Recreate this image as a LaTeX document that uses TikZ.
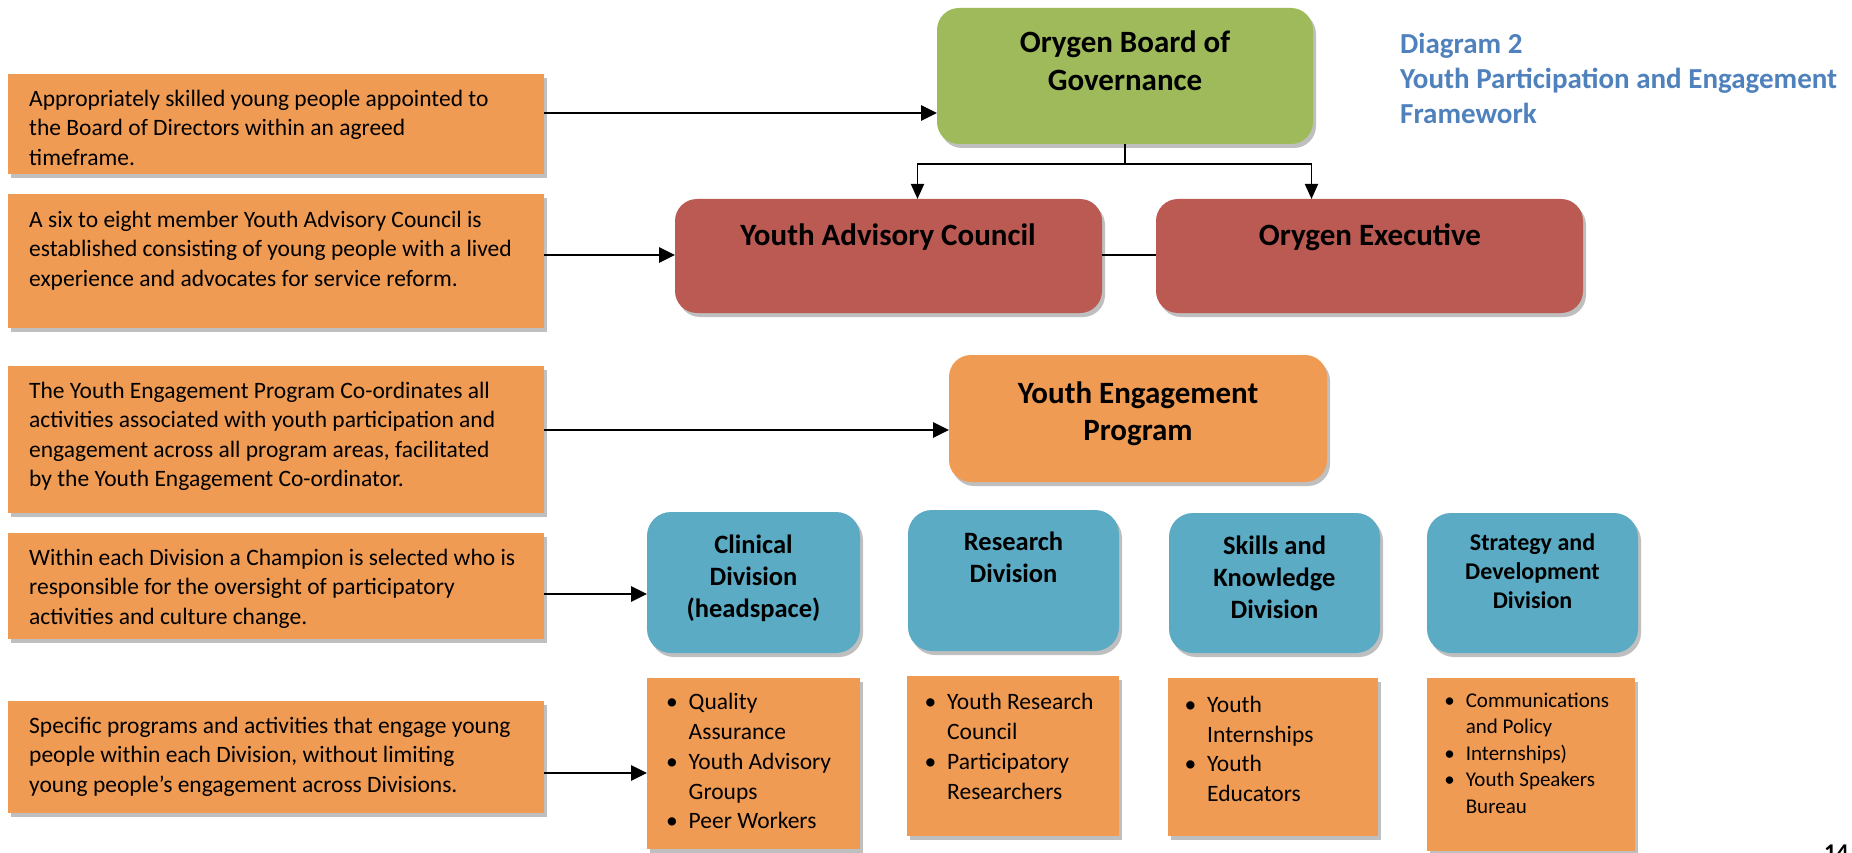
\documentclass[tikz,border=0pt]{standalone}
\usepackage{fontspec}
\setmainfont{Carlito}
\usetikzlibrary{arrows.meta,shadows,calc}
\definecolor{orangeC}{RGB}{240,155,84}
\definecolor{greenC}{RGB}{158,186,90}
\definecolor{redC}{RGB}{187,89,83}
\definecolor{blueC}{RGB}{91,171,197}
\definecolor{titleC}{RGB}{79,129,189}
\newcommand\mybul{\llap{\textbullet\hspace{11pt}}}
\begin{document}
\begin{tikzpicture}[x=1pt,y=-1pt,
  shad/.style={drop shadow={shadow xshift=3pt,shadow yshift=-4pt,fill=black,opacity=0.25}},
  sqbox/.style={fill=orangeC, shad, anchor=north west, inner sep=0pt, outer sep=0pt},
  rbox/.style={shad, anchor=north west, inner sep=0pt, outer sep=0pt, rounded corners=22pt},
  dbox/.style={rbox, fill=blueC, rounded corners=24pt},
  ltxt/.style={anchor=north west, inner sep=0pt, align=left, font=\fontsize{23.5}{29.5}\selectfont},
  btxt/.style={anchor=north west, inner sep=0pt, align=left, font=\fontsize{23.5}{29.7}\selectfont},
  head/.style={anchor=north, inner sep=0pt, align=center, font=\bfseries\fontsize{31}{37.5}\selectfont},
  dhead/.style={anchor=north, inner sep=0pt, align=center, font=\bfseries\fontsize{26.5}{32}\selectfont},
  arr/.style={line width=2.7pt, -{Triangle[length=16pt,width=15pt]}},
  tarr/.style={line width=1.8pt, -{Triangle[length=15pt,width=13pt]}},
  link/.style={line width=1.8pt}
]
\fill[white] (0,0) rectangle (1852,853);
\useasboundingbox (0,0) rectangle (1852,853);

% left description boxes
\node[sqbox, minimum width=536pt, minimum height=100pt] (L1) at (8,74) {};
\node[sqbox, minimum width=536pt, minimum height=134pt] (L2) at (8,194) {};
\node[sqbox, minimum width=536pt, minimum height=147pt] (L3) at (8,366) {};
\node[sqbox, minimum width=536pt, minimum height=106pt] (L4) at (8,533) {};
\node[sqbox, minimum width=536pt, minimum height=112pt] (L5) at (8,701) {};

\node[ltxt] (t1) at (29,85.35) {\strut Appropriately skilled young people appointed to\\the Board of Directors within an agreed\\timeframe.};
\node[ltxt] (t2) at (29,206.35) {\strut A six to eight member Youth Advisory Council is\\established consisting of young people with a lived\\experience and advocates for service reform.};
\node[ltxt] (t3) at (29,377.35) {\strut The Youth Engagement Program Co-ordinates all\\activities associated with youth participation and\\engagement across all program areas, facilitated\\by the Youth Engagement Co-ordinator.};
\node[ltxt] (t4) at (29,544.35) {\strut Within each Division a Champion is selected who is\\responsible for the oversight of participatory\\activities and culture change.};
\node[ltxt] (t5) at (29,712.35) {\strut Specific programs and activities that engage young\\people within each Division, without limiting\\young people’s engagement across Divisions.};

% governance
\node[rbox, fill=greenC, minimum width=376pt, minimum height=136pt] (board) at (937,8) {};
\node[head] (boardt) at (1125,26.5) {\strut Orygen Board of\\Governance};

\node[anchor=north west, inner sep=0pt, align=left, text=titleC, font=\bfseries\fontsize{29}{35.3}\selectfont] (title) at (1400,28.3) {\strut Diagram 2\\Youth Participation and Engagement\\Framework};

\node[rbox, fill=redC, minimum width=427pt, minimum height=114pt] (yac) at (675,199) {};
\node[rbox, fill=redC, minimum width=427pt, minimum height=114pt] (oe) at (1156,199) {};
\node[head] (yact) at (888,218.75) {\strut Youth Advisory Council};
\node[head] (oet) at (1370,218.75) {\strut Orygen Executive};

\node[rbox, fill=orangeC, minimum width=378pt, minimum height=127pt] (yep) at (949,355) {};
\node[head] (yept) at (1138,376.75) {\strut Youth Engagement\\Program};

% divisions
\node[dbox, minimum width=213pt, minimum height=141pt] (clin) at (647,512) {};
\node[dbox, minimum width=211pt, minimum height=141pt] (res) at (908,510) {};
\node[dbox, minimum width=211pt, minimum height=140pt] (ski) at (1169,513) {};
\node[dbox, minimum width=211pt, minimum height=140pt] (str) at (1427,513) {};
\node[dhead] (clint) at (753.5,530.6) {\strut Clinical\\Division\\(headspace)};
\node[dhead] (rest) at (1013.5,527.6) {\strut Research\\Division};
\node[dhead] (skit) at (1274.5,531.6) {\strut Skills and\\Knowledge\\Division};
\node[dhead, font=\bfseries\fontsize{24}{29}\selectfont] (strt) at (1532.5,529.7) {\strut Strategy and\\Development\\Division};

% activity boxes
\node[sqbox, minimum width=213pt, minimum height=171pt] (clinb) at (647,678) {};
\node[sqbox, minimum width=212pt, minimum height=160pt] (resb) at (907,676) {};
\node[sqbox, minimum width=210pt, minimum height=158pt] (skib) at (1168,678) {};
\node[sqbox, minimum width=208pt, minimum height=173pt] (strb) at (1427,678) {};
\node[btxt] (clinbt) at (688.5,689) {\strut\mybul Quality\\Assurance\\\mybul Youth Advisory\\Groups\\\mybul Peer Workers};
\node[btxt] (resbt) at (947,689) {\strut\mybul Youth Research\\Council\\\mybul Participatory\\Researchers};
\node[btxt] (skibt) at (1207,691.5) {\strut\mybul Youth\\Internships\\\mybul Youth\\Educators};
\node[btxt, font=\fontsize{21}{26.5}\selectfont] (strbt) at (1465.6,688.5) {\strut\mybul Communications\\and Policy\\\mybul Internships)\\\mybul Youth Speakers\\Bureau};

\node[anchor=north west, inner sep=0pt, font=\bfseries\fontsize{24}{28}\selectfont] (pg) at (1824,845) {14};

% connectors
\coordinate (y1) at (0,113);
\coordinate (y2) at (0,255);
\coordinate (y3) at (0,430);
\coordinate (y4) at (0,594);
\coordinate (y5) at (0,773);
\draw[arr] (L1.east |- y1) -- (board.west |- y1);
\draw[arr] (L2.east |- y2) -- (yac.west |- y2);
\draw[link] (yac.east |- y2) -- (oe.west |- y2);
\draw[arr] (L3.east |- y3) -- (yep.west |- y3);
\draw[arr] (L4.east |- y4) -- (clin.west |- y4);
\draw[arr] (L5.east |- y5) -- (clinb.west |- y5);
\draw[link] (board.south) -- ++(0,20) coordinate (tj);
\draw[tarr] (tj) -| ([xshift=29pt]yac.north);
\draw[tarr] (tj) -| ([xshift=-58pt]oe.north);
\end{tikzpicture}
\end{document}
